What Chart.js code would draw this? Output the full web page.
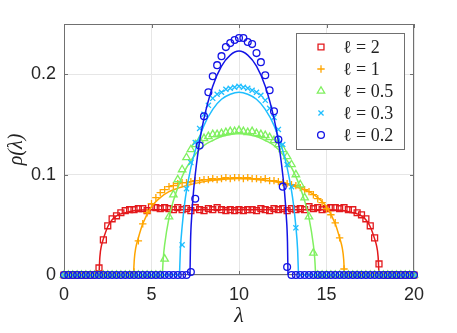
<!DOCTYPE html>
<html>
<head>
<meta charset="utf-8">
<script src="https://cdn.jsdelivr.net/npm/chart.js@4.4.1/dist/chart.umd.min.js"></script>
<style>
  html, body { margin: 0; padding: 0; background: #fff; }
  #grafico { display: block; }
</style>
</head>
<body>
<canvas id="grafico" width="457" height="333"></canvas>
<script>
// grade de lambda onde ficam os marcadores (histograma)
const xGrid = [
  0, 0.25, 0.5, 0.75, 1, 1.25, 1.5, 1.75, 2, 2.25, 2.5, 2.75, 3, 3.25, 3.5, 3.75,
  4, 4.25, 4.5, 4.75, 5, 5.25, 5.5, 5.75, 6, 6.25, 6.5, 6.75, 7, 7.25, 7.5, 7.75,
  8, 8.25, 8.5, 8.75, 9, 9.25, 9.5, 9.75, 10, 10.25, 10.5, 10.75, 11, 11.25, 11.5, 11.75,
  12, 12.25, 12.5, 12.75, 13, 13.25, 13.5, 13.75, 14, 14.25, 14.5, 14.75, 15, 15.25, 15.5, 15.75,
  16, 16.25, 16.5, 16.75, 17, 17.25, 17.5, 17.75, 18, 18.25, 18.5, 18.75, 19, 19.25, 19.5, 19.75,
  20
];

// marcadores (numérico)
const marcasL2 = [
  0, 0, 0, 0, 0, 0, 0, 0, 0.007, 0.035, 0.049, 0.056, 0.059, 0.062, 0.064, 0.065,
  0.065, 0.066, 0.066, 0.064, 0.068, 0.067, 0.066, 0.067, 0.066, 0.065, 0.067, 0.065, 0.066, 0.064, 0.067, 0.065,
  0.064, 0.066, 0.065, 0.067, 0.065, 0.064, 0.065, 0.064, 0.065, 0.064, 0.065, 0.065, 0.064, 0.066, 0.065, 0.064,
  0.066, 0.065, 0.066, 0.064, 0.066, 0.065, 0.066, 0.065, 0.068, 0.066, 0.067, 0.065, 0.066, 0.067, 0.067, 0.066,
  0.067, 0.065, 0.065, 0.062, 0.060, 0.056, 0.049, 0.037, 0.011, 0, 0, 0, 0, 0, 0, 0,
  0
];
const marcasL1 = [
  0, 0, 0, 0, 0, 0, 0, 0, 0, 0, 0, 0, 0, 0, 0, 0,
  0.003, 0.034, 0.051, 0.062, 0.071, 0.077, 0.082, 0.085, 0.088, 0.089, 0.091, 0.092, 0.092, 0.093, 0.094, 0.094,
  0.095, 0.095, 0.096, 0.095, 0.096, 0.097, 0.096, 0.097, 0.097, 0.096, 0.097, 0.096, 0.096, 0.095, 0.096, 0.094,
  0.094, 0.093, 0.092, 0.091, 0.090, 0.089, 0.087, 0.085, 0.083, 0.080, 0.076, 0.072, 0.066, 0.060, 0.052, 0.037,
  0.006, 0, 0, 0, 0, 0, 0, 0, 0, 0, 0, 0, 0, 0, 0, 0,
  0
];
const marcasL05 = [
  0, 0, 0, 0, 0, 0, 0, 0, 0, 0, 0, 0, 0, 0, 0, 0,
  0, 0, 0, 0, 0, 0, 0, 0.016, 0.058, 0.080, 0.095, 0.105, 0.117, 0.125, 0.130, 0.134,
  0.136, 0.138, 0.140, 0.140, 0.141, 0.142, 0.143, 0.143, 0.144, 0.143, 0.142, 0.143, 0.141, 0.140, 0.139, 0.137,
  0.134, 0.130, 0.125, 0.118, 0.110, 0.100, 0.090, 0.077, 0.058, 0.022, 0, 0, 0, 0, 0, 0,
  0, 0, 0, 0, 0, 0, 0, 0, 0, 0, 0, 0, 0, 0, 0, 0,
  0
];
const marcasL03 = [
  0, 0, 0, 0, 0, 0, 0, 0, 0, 0, 0, 0, 0, 0, 0, 0,
  0, 0, 0, 0, 0, 0, 0, 0, 0, 0, 0, 0.030, 0.086, 0.112, 0.132, 0.146,
  0.160, 0.169, 0.176, 0.180, 0.182, 0.185, 0.186, 0.187, 0.188, 0.187, 0.186, 0.184, 0.182, 0.179, 0.174, 0.166,
  0.157, 0.145, 0.130, 0.110, 0.088, 0.047, 0, 0, 0, 0, 0, 0, 0, 0, 0, 0,
  0, 0, 0, 0, 0, 0, 0, 0, 0, 0, 0, 0, 0, 0, 0, 0,
  0
];
const marcasL02 = [
  0, 0, 0, 0, 0, 0, 0, 0, 0, 0, 0, 0, 0, 0, 0, 0,
  0, 0, 0, 0, 0, 0, 0, 0, 0, 0, 0, 0, 0, 0.003, 0.076, 0.129,
  0.158, 0.182, 0.198, 0.209, 0.218, 0.227, 0.231, 0.234, 0.236, 0.236, 0.232, 0.230, 0.221, 0.212, 0.199, 0.184,
  0.163, 0.135, 0.088, 0.008, 0, 0, 0, 0, 0, 0, 0, 0, 0, 0, 0, 0,
  0, 0, 0, 0, 0, 0, 0, 0, 0, 0, 0, 0, 0, 0, 0, 0,
  0
];

// curvas teóricas (linhas contínuas)
const curvaX2 = [2, 2.05, 2.15, 2.25, 2.5, 2.75, 3, 3.5, 4, 5, 7, 10, 13, 15, 16, 16.5, 17, 17.25, 17.5, 17.75, 17.85, 17.95, 18];
const curvaY2 = [0, 0.018, 0.030, 0.036, 0.048, 0.055, 0.059, 0.062, 0.064, 0.065, 0.065, 0.065, 0.065, 0.065, 0.064, 0.062, 0.059, 0.055, 0.048, 0.036, 0.030, 0.018, 0];

const curvaX1 = [3.97, 4.02, 4.1, 4.25, 4.5, 5, 5.5, 6, 7, 8, 9, 10, 11, 12, 13, 14, 14.5, 15, 15.5, 15.75, 15.9, 15.98, 16.03];
const curvaY1 = [0, 0.016, 0.027, 0.037, 0.051, 0.068, 0.077, 0.083, 0.089, 0.093, 0.095, 0.096, 0.095, 0.093, 0.089, 0.083, 0.077, 0.068, 0.051, 0.037, 0.027, 0.016, 0];

const curvaX05 = [5.62, 5.67, 5.75, 6, 6.25, 6.5, 6.75, 7, 7.5, 8, 8.5, 9, 9.5, 10, 10.5, 11, 11.5, 12, 12.5, 13, 13.25, 13.5, 13.75, 14, 14.25, 14.33, 14.38];
const curvaY05 = [0, 0.016, 0.030, 0.057, 0.074, 0.087, 0.098, 0.107, 0.120, 0.129, 0.134, 0.138, 0.140, 0.141, 0.140, 0.138, 0.134, 0.129, 0.120, 0.107, 0.098, 0.087, 0.074, 0.057, 0.030, 0.016, 0];

const curvaX03 = [6.6, 6.65, 6.75, 6.9, 7, 7.25, 7.5, 8, 8.5, 9, 9.5, 10, 10.5, 11, 11.5, 12, 12.5, 12.75, 13, 13.1, 13.25, 13.35, 13.4];
const curvaY03 = [0, 0.025, 0.048, 0.072, 0.084, 0.107, 0.124, 0.149, 0.165, 0.175, 0.180, 0.182, 0.180, 0.175, 0.165, 0.149, 0.124, 0.107, 0.084, 0.072, 0.048, 0.025, 0];

const curvaX02 = [7.2, 7.23, 7.3, 7.4, 7.5, 7.75, 8, 8.5, 9, 9.5, 10, 10.5, 11, 11.5, 12, 12.25, 12.5, 12.6, 12.7, 12.77, 12.8];
const curvaY02 = [0, 0.033, 0.059, 0.083, 0.100, 0.133, 0.156, 0.188, 0.208, 0.219, 0.223, 0.219, 0.208, 0.188, 0.156, 0.133, 0.100, 0.083, 0.059, 0.033, 0];

const nomes = ['ℓ = 2', 'ℓ = 1', 'ℓ = 0.5', 'ℓ = 0.3', 'ℓ = 0.2'];
const xTicks = [0, 5, 10, 15, 20];
const yTicks = [0, 0.1, 0.2];

const cores = ['#e3191c', '#ffa500', '#80f060', '#1ebeff', '#1414e6'];
const formas = ['rect', 'cross', 'triangle', 'crossRot', 'circle'];
const raios = [4.2, 3.7, 4.3, 3.6, 3.4];

const series = [
  { marcas: marcasL2, cx: curvaX2, cy: curvaY2 },
  { marcas: marcasL1, cx: curvaX1, cy: curvaY1 },
  { marcas: marcasL05, cx: curvaX05, cy: curvaY05 },
  { marcas: marcasL03, cx: curvaX03, cy: curvaY03 },
  { marcas: marcasL02, cx: curvaX02, cy: curvaY02 }
];

const datasets = [];
series.forEach((s, i) => {
  datasets.push({
    label: nomes[i],
    data: xGrid.map((x, j) => ({ x: x, y: s.marcas[j] })),
    showLine: false,
    pointStyle: formas[i],
    pointRadius: raios[i],
    pointBorderColor: cores[i],
    pointBackgroundColor: 'rgba(0,0,0,0)',
    pointBorderWidth: 1.3,
    clip: false
  });
  datasets.push({
    label: nomes[i] + ' teoria',
    data: s.cx.map((x, j) => ({ x: x, y: s.cy[j] })),
    showLine: true,
    borderColor: cores[i],
    borderWidth: 1.5,
    pointRadius: 0,
    cubicInterpolationMode: 'monotone',
    fill: false,
    clip: false
  });
});
datasets.reverse(); // o primeiro dataset é pintado por cima

function desenharMarca(ctx, forma, x, y, r) {
  ctx.beginPath();
  if (forma === 'rect') {
    const s = Math.SQRT1_2 * r;
    ctx.rect(x - s, y - s, 2 * s, 2 * s);
  } else if (forma === 'cross') {
    ctx.moveTo(x - r, y); ctx.lineTo(x + r, y);
    ctx.moveTo(x, y - r); ctx.lineTo(x, y + r);
  } else if (forma === 'crossRot') {
    const d = Math.SQRT1_2 * r;
    ctx.moveTo(x - d, y - d); ctx.lineTo(x + d, y + d);
    ctx.moveTo(x + d, y - d); ctx.lineTo(x - d, y + d);
  } else if (forma === 'triangle') {
    let a = 0;
    ctx.moveTo(x + Math.sin(a) * r, y - Math.cos(a) * r);
    a += 2 * Math.PI / 3;
    ctx.lineTo(x + Math.sin(a) * r, y - Math.cos(a) * r);
    a += 2 * Math.PI / 3;
    ctx.lineTo(x + Math.sin(a) * r, y - Math.cos(a) * r);
    ctx.closePath();
  } else {
    ctx.arc(x, y, r, 0, 2 * Math.PI);
  }
  ctx.stroke();
}

// caixa dos eixos com marcas para dentro (estilo MATLAB)
const caixaEixos = {
  id: 'caixaEixos',
  beforeDatasetsDraw(chart) {
    const { ctx, chartArea: a, scales } = chart;
    ctx.save();
    ctx.strokeStyle = '#707070';
    ctx.lineWidth = 1;
    ctx.strokeRect(a.left + 0.5, a.top + 0.5, a.right - a.left - 1, a.bottom - a.top - 1);
    ctx.beginPath();
    xTicks.forEach(v => {
      const px = Math.round(scales.x.getPixelForValue(v)) + 0.5;
      ctx.moveTo(px, a.bottom); ctx.lineTo(px, a.bottom - 4);
      ctx.moveTo(px, a.top); ctx.lineTo(px, a.top + 4);
    });
    yTicks.forEach(v => {
      const py = Math.round(scales.y.getPixelForValue(v)) + 0.5;
      ctx.moveTo(a.left, py); ctx.lineTo(a.left + 4, py);
      ctx.moveTo(a.right, py); ctx.lineTo(a.right - 4, py);
    });
    ctx.stroke();
    ctx.restore();
  }
};

const legenda = {
  id: 'legenda',
  afterDraw(chart) {
    const ctx = chart.ctx;
    ctx.save();
    ctx.fillStyle = '#ffffff';
    ctx.fillRect(296, 33, 108, 116);
    ctx.strokeStyle = '#707070';
    ctx.lineWidth = 1;
    ctx.strokeRect(296.5, 33.5, 108, 116);
    nomes.forEach((n, i) => {
      const y = 47 + i * 22;
      ctx.strokeStyle = cores[i];
      ctx.lineWidth = 1.3;
      desenharMarca(ctx, formas[i], 321, y, raios[i]);
      ctx.fillStyle = '#222';
      ctx.font = '18px "Liberation Serif"';
      ctx.textBaseline = 'middle';
      ctx.textAlign = 'left';
      ctx.fillText(n, 343, y + 1);
    });
    ctx.restore();
  }
};

const fonteTicks = { family: '"Liberation Sans", Arial, sans-serif', size: 18 };

new Chart(document.getElementById('grafico'), {
  type: 'scatter',
  data: { datasets: datasets },
  options: {
    responsive: false,
    animation: false,
    devicePixelRatio: 1,
    layout: { padding: { left: 0, right: 43, top: 24, bottom: 0 } },
    plugins: { legend: { display: false }, tooltip: { enabled: false } },
    scales: {
      x: {
        type: 'linear',
        min: 0,
        max: 20,
        afterBuildTicks: ax => { ax.ticks = xTicks.map(v => ({ value: v })); },
        afterFit: ax => { ax.height = 58; },
        ticks: { font: fonteTicks, color: '#262626', padding: 9, maxRotation: 0, callback: v => String(v) },
        grid: { color: '#e6e6e6', drawTicks: false },
        border: { display: false },
        title: { display: true, text: 'λ', color: '#222', font: { family: '"Liberation Serif", serif', size: 22, style: 'italic' }, padding: { top: 0, bottom: 4 } }
      },
      y: {
        min: 0,
        max: 0.25,
        afterBuildTicks: ax => { ax.ticks = yTicks.map(v => ({ value: v })); },
        afterFit: ax => { ax.width = 64; },
        ticks: { font: fonteTicks, color: '#262626', padding: 8, callback: v => String(v) },
        grid: { color: '#e6e6e6', drawTicks: false },
        border: { display: false },
        title: { display: true, text: 'ρ(λ)', color: '#222', font: { family: '"Liberation Serif", serif', size: 20, style: 'italic' }, padding: { top: 5, bottom: 0 } }
      }
    }
  },
  plugins: [caixaEixos, legenda]
});
</script>
</body>
</html>
